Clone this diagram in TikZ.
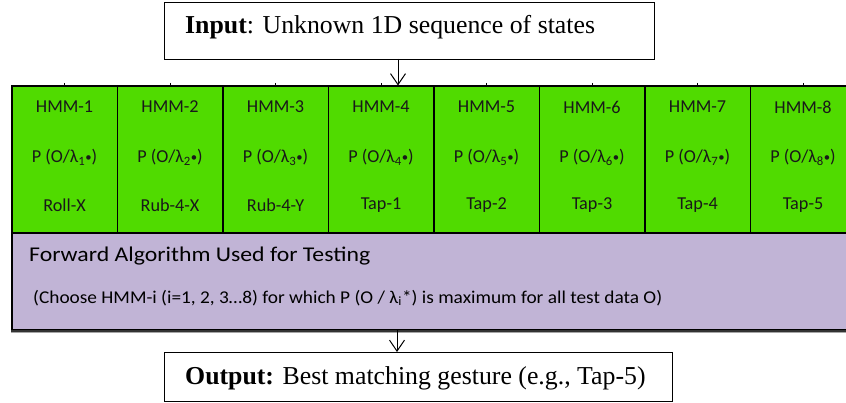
\documentclass[tikz,border=0pt]{standalone}
\usepackage{fontspec}
\setmainfont{Liberation Serif}
\newfontfamily\calib{Carlito}
\usetikzlibrary{arrows.meta}
\definecolor{cellgreen}{RGB}{80,219,0}
\definecolor{algpurple}{RGB}{193,180,214}
\tikzset{
  hmmcell/.style={draw=black, line width=1.6pt, fill=cellgreen, anchor=north west,
    minimum width=105.5pt, minimum height=146.5pt, inner sep=0pt},
  celltext/.style={font=\calib\fontsize{18.2}{20}\selectfont, inner sep=0pt, text=black!90},
  iobox/.style={draw=black, line width=1.2pt, fill=white, anchor=north west, inner sep=0pt},
  iotext/.style={font=\fontsize{25.8}{28}\selectfont, anchor=west, inner sep=0pt},
  flow/.style={line width=1pt, -{Straight Barb[length=11pt,width=15pt,line width=1pt]}},
  tick/.style={line width=0.8pt}
}
\newcommand{\lam}[1]{λ\textsubscript{#1}{\raisebox{0.05em}{\scalebox{0.7}{•}}}}
\begin{document}
\begin{tikzpicture}[x=1pt,y=-1pt]
\clip (0,0) rectangle (846,403);
\fill[white] (0,0) rectangle (846,403);

% algorithm panel
\node[draw=black, line width=1.6pt, fill=algpurple, anchor=north west,
      minimum width=860pt, minimum height=97.5pt, inner sep=0pt] (alg) at (11,232) {};
\draw[line width=2.2pt, black!80] (alg.south west) -- ([xshift=20pt]alg.south east);
\draw[line width=1pt, black!35] ([yshift=-1.8pt]alg.south west) -- ([yshift=-1.8pt,xshift=20pt]alg.south east);
\node[font=\calib\fontsize{21}{24}\selectfont, anchor=west, inner sep=0pt] (algtitle) at (29,256)
  {\resizebox{341pt}{\height}{Forward Algorithm Used for Testing}};
\node[font=\calib\fontsize{18}{20}\selectfont, anchor=west, inner sep=0pt] (algnote) at (33,298)
  {\resizebox{629pt}{\height}{(Choose HMM-i (i=1, 2, 3…8) for which P (O / λ\textsubscript{i}*) is maximum for all test data O)}};

% model cells
\foreach \i/\g in {1/Roll-X,2/Rub-4-X,3/Rub-4-Y,4/Tap-1,5/Tap-2,6/Tap-3,7/Tap-4,8/Tap-5}{
  \node[hmmcell] (h\i) at ({11+(\i-1)*105.5},85.5) {};
  \node[celltext] (n\i) at ([yshift=-21.5pt]h\i.north) {HMM-\i};
  \node[celltext] (p\i) at ([yshift=-72pt]h\i.north) {P (O/\lam{\i})};
  \node[celltext] (g\i) at ([yshift=-120pt]h\i.north) {\g};
  \coordinate (t\i) at ([yshift=2.5pt]h\i.north);
  \draw[tick] (t\i) -- (h\i.north);
}

% input and output boxes
\node[iobox, minimum width=490pt, minimum height=57pt] (in) at (164,2) {};
\node[iotext] (intext) at (185,27) {\textbf{Input}: Unknown 1D sequence of states};
\node[iobox, minimum width=508pt, minimum height=49pt] (out) at (164,352) {};
\node[iotext] (outtext) at (185,378.5) {\textbf{Output:} Best matching gesture (e.g., Tap-5)};

\coordinate (inarr) at (398,59);
\coordinate (ingoal) at (398,85.5);
\draw[flow] (inarr) -- (ingoal);
\coordinate (outarr) at (397,330.5);
\coordinate (outgoal) at (397,352);
\draw[flow] (outarr) -- (outgoal);
\end{tikzpicture}
\end{document}
